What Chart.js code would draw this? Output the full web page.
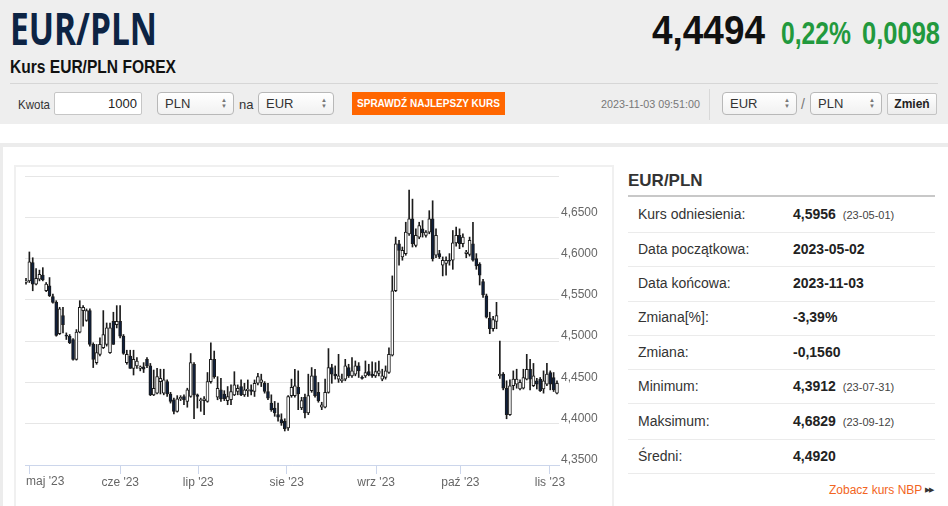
<!DOCTYPE html>
<html><head><meta charset="utf-8">
<script src="https://cdn.jsdelivr.net/npm/chart.js@4.4.0/dist/chart.umd.min.js"></script>
<style>
*{box-sizing:border-box}
html,body{margin:0;padding:0;width:948px;height:506px;overflow:hidden;background:#fff;font-family:"Liberation Sans",Arial,sans-serif;color:#333}
.a{position:absolute;white-space:nowrap;line-height:1}
.fit{transform-origin:0 0;display:inline-block}
.box{position:absolute}
.sel{position:absolute;height:23px;border:1px solid #b8b8b8;border-radius:4px;background:linear-gradient(#ffffff,#f1f1f1);font-size:13px;line-height:21px;padding-left:7px;color:#333}
.sel .ar{position:absolute;right:6px;top:4px;width:6px;font-size:6px;line-height:6px;color:#777;text-align:center}
.row{position:absolute;left:638px;height:20px;line-height:20px;font-size:14px;color:#333;white-space:nowrap}
.val{position:absolute;left:793px;height:20px;line-height:20px;font-size:14px;font-weight:bold;color:#222;white-space:nowrap}
.val span{font-size:11px;font-weight:normal;color:#444;margin-left:7px}
.sep{position:absolute;left:628px;width:307px;height:1px;background:#ebebeb}
</style></head>
<body>
<div class="box" style="left:0;top:0;width:948px;height:124px;background:#eeeeee"></div>
<div class="a fit" data-w="147" style="left:10px;top:5px;font-family:'Open Sans';font-weight:700;font-size:45px;color:#0d2444">EUR/PLN</div>
<div class="a fit" data-w="113" style="left:652px;top:10px;font-weight:bold;font-size:40px;color:#111">4,4494</div>
<div class="a fit" data-w="70" style="left:781px;top:18px;font-weight:bold;font-size:31px;color:#22993d">0,22%</div>
<div class="a fit" data-w="78" style="left:862px;top:18px;font-weight:bold;font-size:31px;color:#22993d">0,0098</div>
<div class="a fit" data-w="166" style="left:10px;top:57px;font-weight:bold;font-size:19px;color:#111">Kurs EUR/PLN FOREX</div>
<div class="box" style="left:10px;top:83px;width:928px;height:1px;background:#d6d6d6"></div>

<div class="a fit" data-w="32" style="left:18px;top:98px;font-size:13px;color:#333">Kwota</div>
<div class="box" style="left:54px;top:92px;width:88px;height:23px;border:1px solid #c6c6c6;border-radius:2px;background:#fff;font-size:13px;line-height:21px;text-align:right;padding-right:4px;color:#222">1000</div>
<div class="sel" style="left:157px;top:92px;width:77px">PLN<div class="ar">▲<br>▼</div></div>
<div class="a" style="left:239px;top:98px;font-size:13px;color:#333">na</div>
<div class="sel" style="left:258px;top:92px;width:76px">EUR<div class="ar">▲<br>▼</div></div>
<div class="box" style="left:352px;top:92px;width:153px;height:23px;background:#ff6600"></div>
<div class="a fit" data-w="143" style="left:357px;top:98px;font-size:11px;font-weight:bold;color:#fff">SPRAWDŹ NAJLEPSZY KURS</div>
<div class="a fit" data-w="99" style="left:601px;top:99px;font-size:11px;color:#777">2023-11-03 09:51:00</div>
<div class="box" style="left:709px;top:89px;width:1px;height:31px;background:#d8d8d8"></div>
<div class="sel" style="left:722px;top:92px;width:75px">EUR<div class="ar">▲<br>▼</div></div>
<div class="a" style="left:801px;top:97px;font-size:14px;color:#777">/</div>
<div class="sel" style="left:810px;top:92px;width:72px">PLN<div class="ar">▲<br>▼</div></div>
<div class="box" style="left:887px;top:93px;width:50px;height:22px;border:1px solid #c4c4c4;border-radius:2px;background:linear-gradient(#ffffff,#ececec);font-size:12px;font-weight:bold;line-height:20px;text-align:center;color:#222">Zmień</div>

<div class="box" style="left:0;top:143px;width:948px;height:4px;background:#ececec"></div>
<div class="box" style="left:0;top:143px;width:3px;height:363px;background:#ececec"></div>
<div class="box" style="left:14px;top:165px;width:600px;height:360px;border:2px solid #f0f0f0"></div>
<div class="box" style="left:15px;top:166px;width:597px;height:340px"><canvas id="c" width="597" height="340" style="width:597px;height:340px"></canvas></div>

<div class="a" style="left:628px;top:172px;font-weight:bold;font-size:17px;color:#333">EUR/PLN</div>
<div class="box" style="left:628px;top:195px;width:307px;height:2px;background:#c8c8c8"></div>

<div class="row" style="top:204px">Kurs odniesienia:</div><div class="val" style="top:204px">4,5956<span>(23-05-01)</span></div>
<div class="sep" style="top:232px"></div>
<div class="row" style="top:239px">Data początkowa:</div><div class="val" style="top:239px">2023-05-02</div>
<div class="sep" style="top:266px"></div>
<div class="row" style="top:273px">Data końcowa:</div><div class="val" style="top:273px">2023-11-03</div>
<div class="sep" style="top:301px"></div>
<div class="row" style="top:307px">Zmiana[%]:</div><div class="val" style="top:307px">-3,39%</div>
<div class="sep" style="top:335px"></div>
<div class="row" style="top:342px">Zmiana:</div><div class="val" style="top:342px">-0,1560</div>
<div class="sep" style="top:369px"></div>
<div class="row" style="top:376px">Minimum:</div><div class="val" style="top:376px">4,3912<span>(23-07-31)</span></div>
<div class="sep" style="top:403px"></div>
<div class="row" style="top:411px">Maksimum:</div><div class="val" style="top:411px">4,6829<span>(23-09-12)</span></div>
<div class="sep" style="top:439px"></div>
<div class="row" style="top:446px">Średni:</div><div class="val" style="top:446px">4,4920</div>
<div class="sep" style="top:473px"></div>
<div class="a" style="left:829px;top:484px;font-size:12px;color:#f26522">Zobacz kurs NBP</div>
<div class="a" style="left:925px;top:486px;font-size:7px;color:#333;letter-spacing:-1px">▶▶</div>

<script>
// ---- data ----
const openVals = [4.571,4.573,4.595,4.569,4.575,4.580,4.561,4.567,4.554,4.547,4.509,4.531,4.507,4.506,4.502,4.478,4.511,4.537,4.525,4.537,
4.496,4.474,4.484,4.492,4.496,4.486,4.524,4.520,4.524,4.506,4.474,4.482,4.467,4.470,4.467,4.469,4.478,4.470,4.435,4.437,
4.451,4.437,4.451,4.436,4.429,4.415,4.430,4.433,4.427,4.433,4.472,4.435,4.428,4.428,4.427,4.451,4.478,4.432,4.441,4.436,
4.428,4.429,4.435,4.439,4.445,4.435,4.440,4.441,4.439,4.449,4.450,4.449,4.439,4.425,4.419,4.411,4.405,4.403,4.395,4.434,
4.434,4.444,4.419,4.432,4.413,4.440,4.458,4.438,4.420,4.420,4.438,4.468,4.460,4.454,4.452,4.454,4.468,4.458,4.460,4.470,
4.456,4.458,4.463,4.460,4.458,4.461,4.454,4.456,4.462,4.483,4.561,4.618,4.602,4.606,4.630,4.648,4.616,4.626,4.636,4.628,
4.632,4.648,4.604,4.606,4.592,4.594,4.598,4.598,4.619,4.628,4.618,4.606,4.605,4.618,4.600,4.593,4.572,4.555,4.528,4.515,
4.524,4.458,4.460,4.443,4.411,4.446,4.448,4.442,4.443,4.454,4.466,4.446,4.452,4.454,4.442,4.448,4.462,4.456,4.437];
const highVals = [4.576,4.608,4.601,4.588,4.586,4.589,4.571,4.577,4.557,4.549,4.541,4.541,4.510,4.508,4.503,4.514,4.549,4.543,4.539,4.539,
4.498,4.496,4.504,4.537,4.522,4.522,4.535,4.543,4.543,4.508,4.489,4.489,4.489,4.480,4.470,4.474,4.480,4.473,4.465,4.467,
4.466,4.466,4.453,4.438,4.431,4.434,4.434,4.435,4.443,4.485,4.474,4.436,4.431,4.433,4.462,4.498,4.488,4.457,4.455,4.440,
4.445,4.447,4.463,4.447,4.453,4.449,4.453,4.447,4.453,4.461,4.460,4.451,4.449,4.435,4.427,4.425,4.412,4.406,4.434,4.454,
4.466,4.464,4.432,4.436,4.460,4.468,4.466,4.450,4.426,4.454,4.491,4.472,4.470,4.484,4.460,4.478,4.472,4.480,4.476,4.474,
4.458,4.476,4.472,4.475,4.474,4.476,4.466,4.470,4.492,4.579,4.626,4.622,4.614,4.644,4.6829,4.672,4.636,4.644,4.646,4.634,
4.658,4.670,4.636,4.610,4.602,4.602,4.606,4.634,4.638,4.636,4.630,4.610,4.626,4.644,4.606,4.595,4.575,4.557,4.535,4.530,
4.547,4.500,4.462,4.452,4.453,4.464,4.466,4.453,4.466,4.484,4.478,4.473,4.455,4.456,4.464,4.473,4.464,4.462,4.452];
const lowVals = [4.569,4.571,4.561,4.568,4.573,4.573,4.560,4.554,4.546,4.506,4.508,4.510,4.502,4.497,4.477,4.477,4.510,4.518,4.524,4.494,
4.468,4.472,4.482,4.491,4.494,4.485,4.496,4.516,4.504,4.484,4.472,4.467,4.459,4.467,4.464,4.462,4.468,4.434,4.434,4.436,
4.436,4.435,4.433,4.425,4.412,4.414,4.428,4.423,4.420,4.432,4.406,4.419,4.415,4.411,4.426,4.449,4.455,4.429,4.427,4.428,
4.423,4.423,4.434,4.435,4.434,4.433,4.433,4.435,4.433,4.447,4.445,4.437,4.429,4.415,4.409,4.403,4.398,4.3912,4.392,4.432,
4.432,4.417,4.417,4.407,4.411,4.438,4.432,4.426,4.417,4.419,4.437,4.449,4.454,4.450,4.450,4.452,4.456,4.456,4.458,4.456,
4.454,4.456,4.458,4.456,4.456,4.458,4.452,4.454,4.461,4.482,4.560,4.592,4.598,4.604,4.628,4.614,4.614,4.624,4.626,4.626,
4.630,4.597,4.601,4.600,4.579,4.580,4.592,4.587,4.615,4.612,4.614,4.601,4.603,4.597,4.587,4.568,4.553,4.528,4.509,4.512,
4.515,4.455,4.441,4.406,4.410,4.441,4.443,4.441,4.442,4.453,4.441,4.445,4.442,4.439,4.437,4.446,4.441,4.439,4.436];
const closeVals = [4.573,4.596,4.569,4.576,4.581,4.574,4.569,4.555,4.547,4.507,4.539,4.520,4.506,4.498,4.478,4.511,4.541,4.541,4.537,4.496,
4.478,4.486,4.496,4.508,4.516,4.516,4.496,4.524,4.506,4.485,4.484,4.467,4.478,4.476,4.469,4.466,4.470,4.435,4.443,4.457,
4.455,4.453,4.436,4.427,4.415,4.430,4.432,4.429,4.441,4.474,4.435,4.433,4.429,4.430,4.451,4.478,4.457,4.443,4.430,4.430,
4.433,4.439,4.447,4.443,4.435,4.441,4.442,4.439,4.449,4.457,4.453,4.439,4.431,4.417,4.413,4.408,4.401,4.394,4.433,4.444,
4.446,4.436,4.428,4.413,4.434,4.458,4.434,4.428,4.423,4.438,4.468,4.460,4.458,4.458,4.454,4.470,4.458,4.464,4.470,4.464,
4.455,4.462,4.459,4.458,4.463,4.464,4.458,4.464,4.484,4.561,4.618,4.610,4.610,4.632,4.648,4.618,4.628,4.640,4.631,4.632,
4.648,4.600,4.628,4.602,4.598,4.598,4.597,4.619,4.628,4.618,4.626,4.608,4.622,4.598,4.591,4.580,4.556,4.529,4.515,4.526,
4.531,4.460,4.443,4.411,4.446,4.454,4.454,4.450,4.456,4.466,4.454,4.458,4.448,4.440,4.452,4.460,4.448,4.441,4.449];
const monthLabels = ["maj '23","cze '23","lip '23","sie '23","wrz '23","paź '23","lis '23"];
const monthPos = [1.04, 28.03, 51.27, 77.57, 104.2, 129.25, 155.9];
const yMin = 4.35, yMax = 4.70, yStep = 0.05;

// ---- fit header texts to measured widths ----
document.querySelectorAll('[data-w]').forEach(el => {
  const w = el.getBoundingClientRect().width;
  const t = parseFloat(el.dataset.w);
  if (w > 0) el.style.transform = 'scaleX(' + (t / w) + ')';
});

Chart.defaults.font.family = '"Liberation Sans", Arial, sans-serif';
const UP = '#ffffff', DOWN = '#0e1f3d', LINE = '#1c1c1c';
const bodyData = openVals.map((o, i) => ({x: i, y: [o, closeVals[i]]}));
const wickData = lowVals.map((l, i) => ({x: i, y: [l, highVals[i]]}));

const firstLabel = {
  id: 'firstLabel',
  afterDraw(chart) {
    const s = chart.scales.x, c = chart.ctx;
    const x = s.getPixelForValue(monthPos[0]);
    c.save();
    c.font = '12px "Liberation Sans", Arial, sans-serif';
    c.fillStyle = '#666666';
    c.textAlign = 'left';
    c.textBaseline = 'middle';
    c.fillText(monthLabels[0], x - 3.5, s.top + 9 + 1 + 7);
    c.restore();
  }
};

new Chart(document.getElementById('c'), {
  type: 'bar',
  data: {datasets: [
    {label: 'body', data: bodyData, grouped: false, barThickness: 3, minBarLength: 1,
     borderWidth: 1, borderSkipped: false, borderColor: LINE,
     backgroundColor: c => (closeVals[c.dataIndex] >= openVals[c.dataIndex] ? UP : DOWN)},
    {label: 'wick', data: wickData, grouped: false, barThickness: 1, borderWidth: 0, backgroundColor: LINE}
  ]},
  options: {
    responsive: false, animation: false,
    layout: {padding: {left: 10, top: 10, right: 0, bottom: 0}},
    plugins: {legend: {display: false}, tooltip: {enabled: false}},
    scales: {
      x: {
        type: 'linear', min: -0.3, max: 158.6, offset: false,
        afterBuildTicks: s => { s.ticks = monthPos.map(v => ({value: v})); },
        afterFit: s => { s.height = 41; s.paddingLeft = 0; s.paddingRight = 0; },
        ticks: {autoSkip: false, maxRotation: 0, minRotation: 0, color: '#666666', font: {size: 12}, padding: 1,
                callback: (v, i) => (i === 0 ? '' : monthLabels[i])},
        grid: {offset: false, drawOnChartArea: false, drawTicks: true, tickLength: 9, color: '#ccd6eb', tickColor: '#ccd6eb'},
        border: {display: true, color: '#ccd6eb'}
      },
      y: {
        type: 'linear', position: 'right', min: yMin, max: yMax,
        afterFit: s => { s.width = 53; },
        ticks: {stepSize: yStep, color: '#666666', font: {size: 12}, padding: 2, labelOffset: -5,
                callback: v => (Math.abs(v - yMax) < 1e-6 ? '' : Number(v).toFixed(4).replace('.', ','))},
        grid: {color: '#e6e6e6', drawTicks: false},
        border: {display: false}
      }
    }
  },
  plugins: [firstLabel]
});
</script>
</body></html>
